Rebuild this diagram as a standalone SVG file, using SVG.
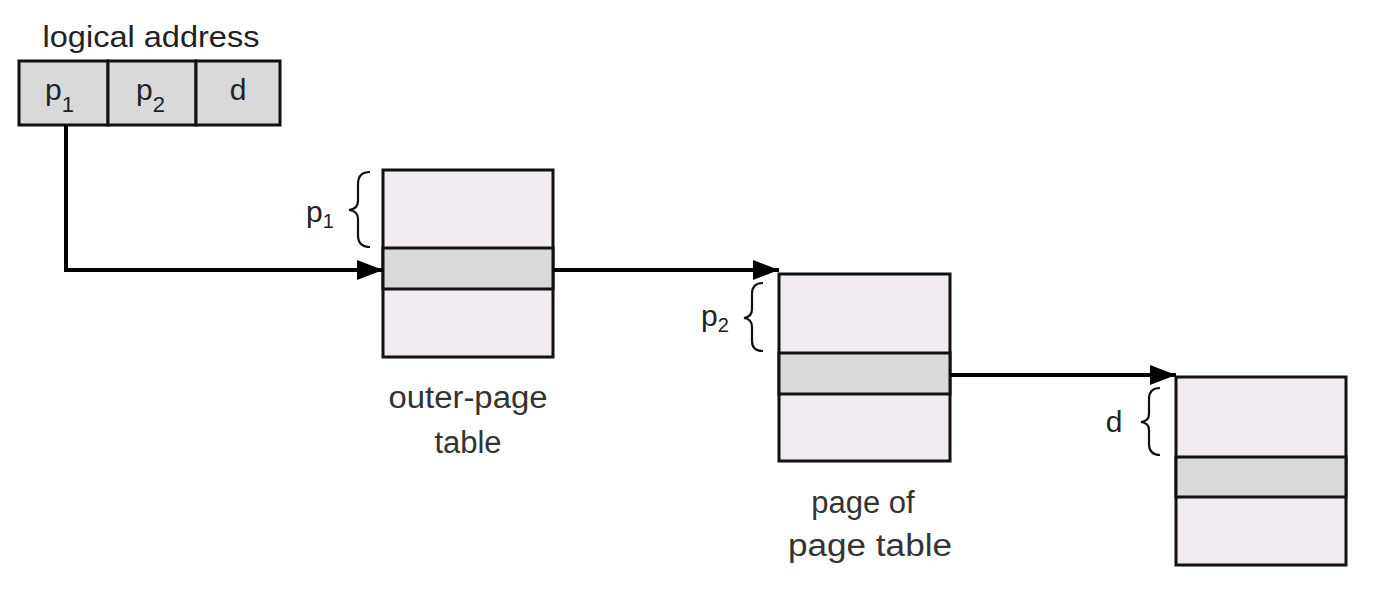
<svg xmlns="http://www.w3.org/2000/svg" width="1400" height="610" viewBox="0 0 1400 610">
<defs>
<style>
.t{font-family:"Liberation Sans",Arial,sans-serif;font-size:30px;fill:#222;}
.lbl{font-family:"Liberation Sans",Arial,sans-serif;font-size:31px;fill:#333;text-anchor:middle;}
.sub{font-size:22px;}
.cell{fill:#d9d9d9;stroke:#111;stroke-width:3;}
.pg{fill:#f2ecf2;stroke:#111;stroke-width:3;}
.band{fill:#d9d9d9;stroke:#111;stroke-width:3;}
.brace{fill:none;stroke:#111;stroke-width:2.2;}
.conn{fill:none;stroke:#000;stroke-width:4;}
</style>
<marker id="arr" markerWidth="26" markerHeight="20" refX="26" refY="10" orient="auto" markerUnits="userSpaceOnUse" viewBox="0 0 26 20">
<path d="M0,0 L26,10 L0,20 z" fill="#000"/>
</marker>
</defs>
<rect width="1400" height="610" fill="#fff"/>

<g id="logical-address">
<text class="t" x="151" y="47" text-anchor="middle" textLength="217" lengthAdjust="spacingAndGlyphs">logical address</text>
<rect class="cell" x="19" y="61" width="89" height="64"/>
<rect class="cell" x="108" y="61" width="88" height="64"/>
<rect class="cell" x="196" y="61" width="84" height="64"/>
<text class="t" x="45" y="100" fill="#333">p<tspan class="sub" dy="12">1</tspan></text>
<text class="t" x="136" y="100" fill="#333">p<tspan class="sub" dy="12">2</tspan></text>
<text class="t" x="238" y="100" text-anchor="middle" fill="#333">d</text>
</g>

<g id="outer-page-table">
<rect class="pg" x="383" y="170" width="170" height="187"/>
<rect class="band" x="383" y="248" width="170" height="41"/>
<path class="brace" d="M370,172 Q358,172 358,184 L358,201 Q358,209 349,210 Q358,211 358,219 L358,235 Q358,247 370,247"/>
<text class="t" x="306" y="222" fill="#333">p<tspan style="font-size:20px" dy="6">1</tspan></text>
<text class="lbl" x="468" y="408" textLength="159" lengthAdjust="spacingAndGlyphs">outer-page</text>
<text class="lbl" x="468" y="453">table</text>
</g>

<g id="page-of-page-table">
<rect class="pg" x="779" y="274" width="171" height="187"/>
<rect class="band" x="779" y="353" width="171" height="41"/>
<path class="brace" d="M763,283 Q752,283 752,294 L752,309 Q752,317 744,318 Q752,319 752,327 L752,341 Q752,351 763,351"/>
<text class="t" x="701" y="326" fill="#333">p<tspan style="font-size:20px" dy="6">2</tspan></text>
<text class="lbl" x="863" y="513">page of</text>
<text class="lbl" x="870" y="556" textLength="164" lengthAdjust="spacingAndGlyphs">page table</text>
</g>

<g id="page">
<rect class="pg" x="1176" y="377" width="170" height="188"/>
<rect class="band" x="1176" y="457" width="170" height="40"/>
<path class="brace" d="M1160,388 Q1149,388 1149,399 L1149,414 Q1149,421 1141,422 Q1149,423 1149,430 L1149,444 Q1149,455 1160,455"/>
<text class="t" x="1114" y="432" text-anchor="middle" fill="#333">d</text>
</g>

<g id="connectors">
<path class="conn" d="M66,125 L66,270 L383,270" marker-end="url(#arr)"/>
<path class="conn" d="M553,270 L779,270" marker-end="url(#arr)"/>
<path class="conn" d="M950,375 L1176,375" marker-end="url(#arr)"/>
</g>
</svg>
